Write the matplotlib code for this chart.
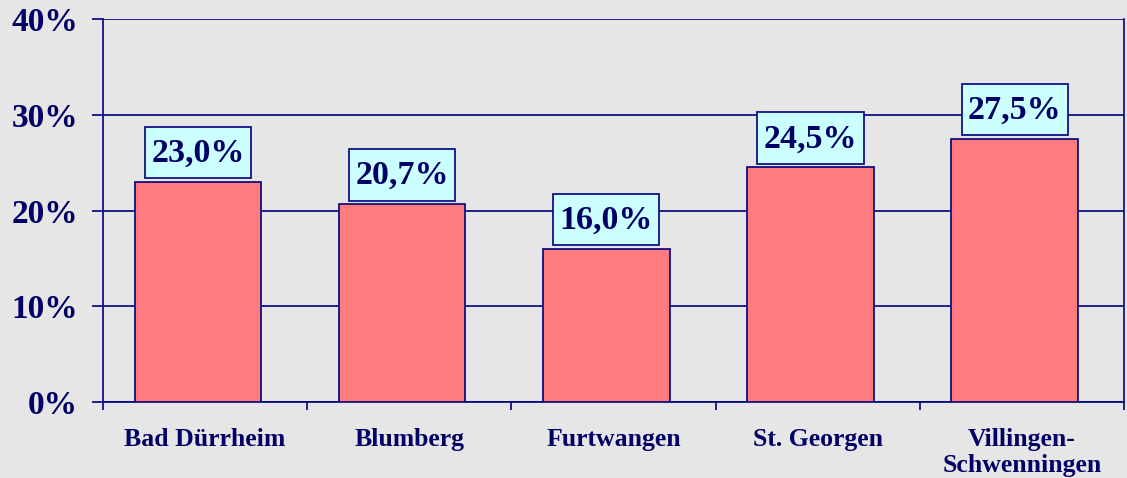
import matplotlib
matplotlib.use("Agg")
import matplotlib.pyplot as plt
from matplotlib.patches import Rectangle

towns = ["Bad Dürrheim", "Blumberg", "Furtwangen", "St. Georgen",
         "Villingen-\nSchwenningen"]
shares = [23.0, 20.7, 16.0, 24.5, 27.5]
value_labels = ["23,0%", "20,7%", "16,0%", "24,5%", "27,5%"]
y_ticks = [0, 10, 20, 30, 40]
y_ticklabels = ["0%", "10%", "20%", "30%", "40%"]

navy = "#000080"
text_col = "#000066"
bg = "#E6E6E6"

plt.rcParams['font.family'] = ['Liberation Serif', 'DejaVu Serif']
plt.rcParams['font.weight'] = 'bold'

fig = plt.figure(figsize=(11.27, 4.78), dpi=100, facecolor=bg)
ax = fig.add_axes([0.0914, 0.159, 0.9059, 0.801])
ax.set_facecolor(bg)

x = list(range(len(towns)))
bar_x = [i - 0.035 for i in x]  # bars sit a bit left of the category centre
ax.set_axisbelow(True)
ax.yaxis.grid(True, color=navy, linewidth=1.2)
ax.bar(bar_x, shares, width=0.62, color="#FF7B7E", edgecolor=navy,
       linewidth=1.2, zorder=3)

for xi, v, lab in zip(bar_x, shares, value_labels):
    ax.add_patch(Rectangle((xi - 0.26, v + 0.35), 0.52, 5.4,
                           facecolor="#CCFFFF", edgecolor=navy,
                           linewidth=1.2, zorder=4))
    ax.text(xi, v + 0.35 + 2.6, lab, ha="center", va="center",
            fontsize=24.5, fontweight="bold", color=text_col, zorder=5)

ax.set_xlim(-0.5, 4.5)
ax.set_ylim(0, 40)
ax.set_yticks(y_ticks)
ax.set_yticklabels(y_ticklabels, fontsize=24, fontweight="bold", color=text_col)
ax.set_xticks(x)
ax.set_xticklabels(towns, fontsize=18.5, fontweight="bold", color=text_col,
                   linespacing=1.15)
ax.set_xticks([i - 0.5 for i in range(len(towns) + 1)], minor=True)
ax.tick_params(axis="x", which="major", length=0, pad=19)
ax.tick_params(axis="x", which="minor", length=6, width=1.2, color=navy,
               direction="out")
ax.tick_params(axis="y", length=8, width=1.2, color=navy, pad=10)

for s in ["left", "bottom", "right"]:
    ax.spines[s].set_color(navy)
    ax.spines[s].set_linewidth(1.2)
ax.spines["top"].set_visible(False)

fig.savefig("out.png", dpi=100, facecolor=bg)
